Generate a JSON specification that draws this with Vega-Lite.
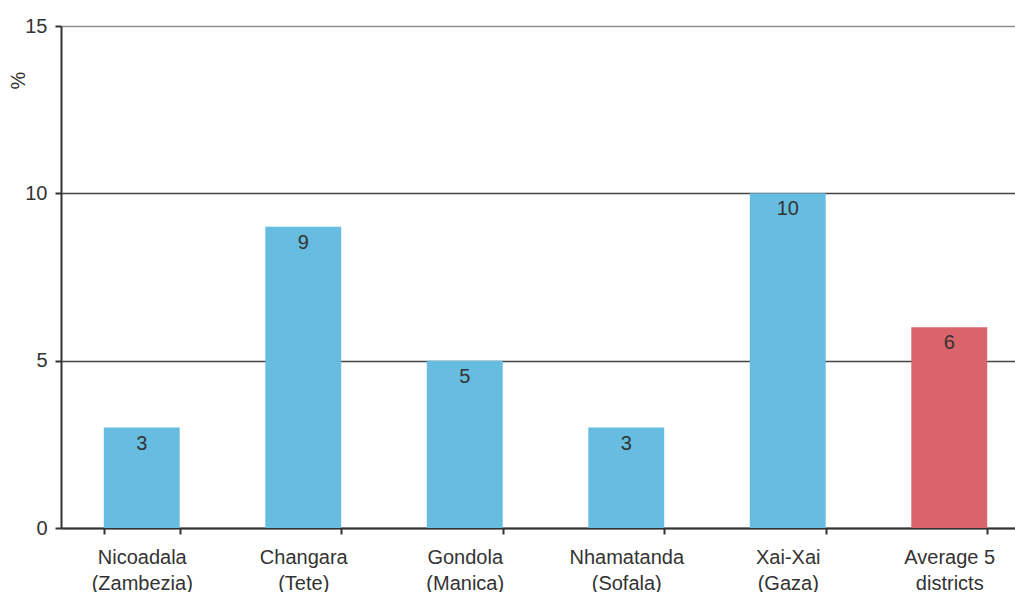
{
  "$schema": "https://vega.github.io/schema/vega-lite/v6.json",
  "autosize": "none",
  "width": 969,
  "height": 502,
  "padding": {"left": 61, "top": 26, "right": 0, "bottom": 64},
  "background": "white",
  "config": {
    "view": {"stroke": null},
    "font": "Liberation Sans",
    "axis": {"labelColor": "#333", "titleColor": "#333", "labelFont": "Liberation Sans", "titleFont": "Liberation Sans"}
  },
  "data": {
    "values": [
      {"district": "Nicoadala\n(Zambezia)", "value": 3, "type": "d"},
      {"district": "Changara\n(Tete)", "value": 9, "type": "d"},
      {"district": "Gondola\n(Manica)", "value": 5, "type": "d"},
      {"district": "Nhamatanda\n(Sofala)", "value": 3, "type": "d"},
      {"district": "Xai-Xai\n(Gaza)", "value": 10, "type": "d"},
      {"district": "Average 5\ndistricts", "value": 6, "type": "avg"}
    ]
  },
  "encoding": {
    "x": {
      "field": "district", "type": "nominal", "sort": null,
      "scale": {"paddingInner": 0.53, "paddingOuter": 0.265},
      "axis": {
        "title": null, "labelAngle": 0, "labelFontSize": 20, "labelLineHeight": 26,
        "labelExpr": "split(datum.label, '\\n')", "labelPadding": 13,
        "tickBand": "extent", "tickSize": 6, "tickColor": "#333", "tickWidth": 2,
        "domainColor": "#333", "domainWidth": 2, "grid": false
      }
    },
    "y": {
      "field": "value", "type": "quantitative",
      "scale": {"domain": [0, 15]},
      "axis": {
        "values": [0, 5, 10, 15], "title": "%", "titleFontSize": 20, "titleFontWeight": "normal",
        "titleAngle": -90, "titleX": -43, "titleY": 54, "titleAlign": "center", "titleBaseline": "middle",
        "labelFontSize": 20, "labelPadding": 8, "tickSize": 6, "tickColor": "#333", "tickWidth": 2,
        "domainColor": "#333", "domainWidth": 2,
        "grid": true, "gridWidth": 1.5,
        "gridColor": {"condition": {"test": "datum.value === 15", "value": "#8c9096"}, "value": "#444"}
      }
    }
  },
  "layer": [
    {
      "mark": {"type": "bar"},
      "encoding": {
        "color": {
          "field": "type", "type": "nominal", "legend": null,
          "scale": {"domain": ["d", "avg"], "range": ["#66bde0", "#d9646a"]}
        }
      }
    },
    {
      "mark": {"type": "text", "baseline": "top", "dy": 6, "fontSize": 20, "color": "#333"},
      "encoding": {"text": {"field": "value", "type": "quantitative"}}
    }
  ]
}
